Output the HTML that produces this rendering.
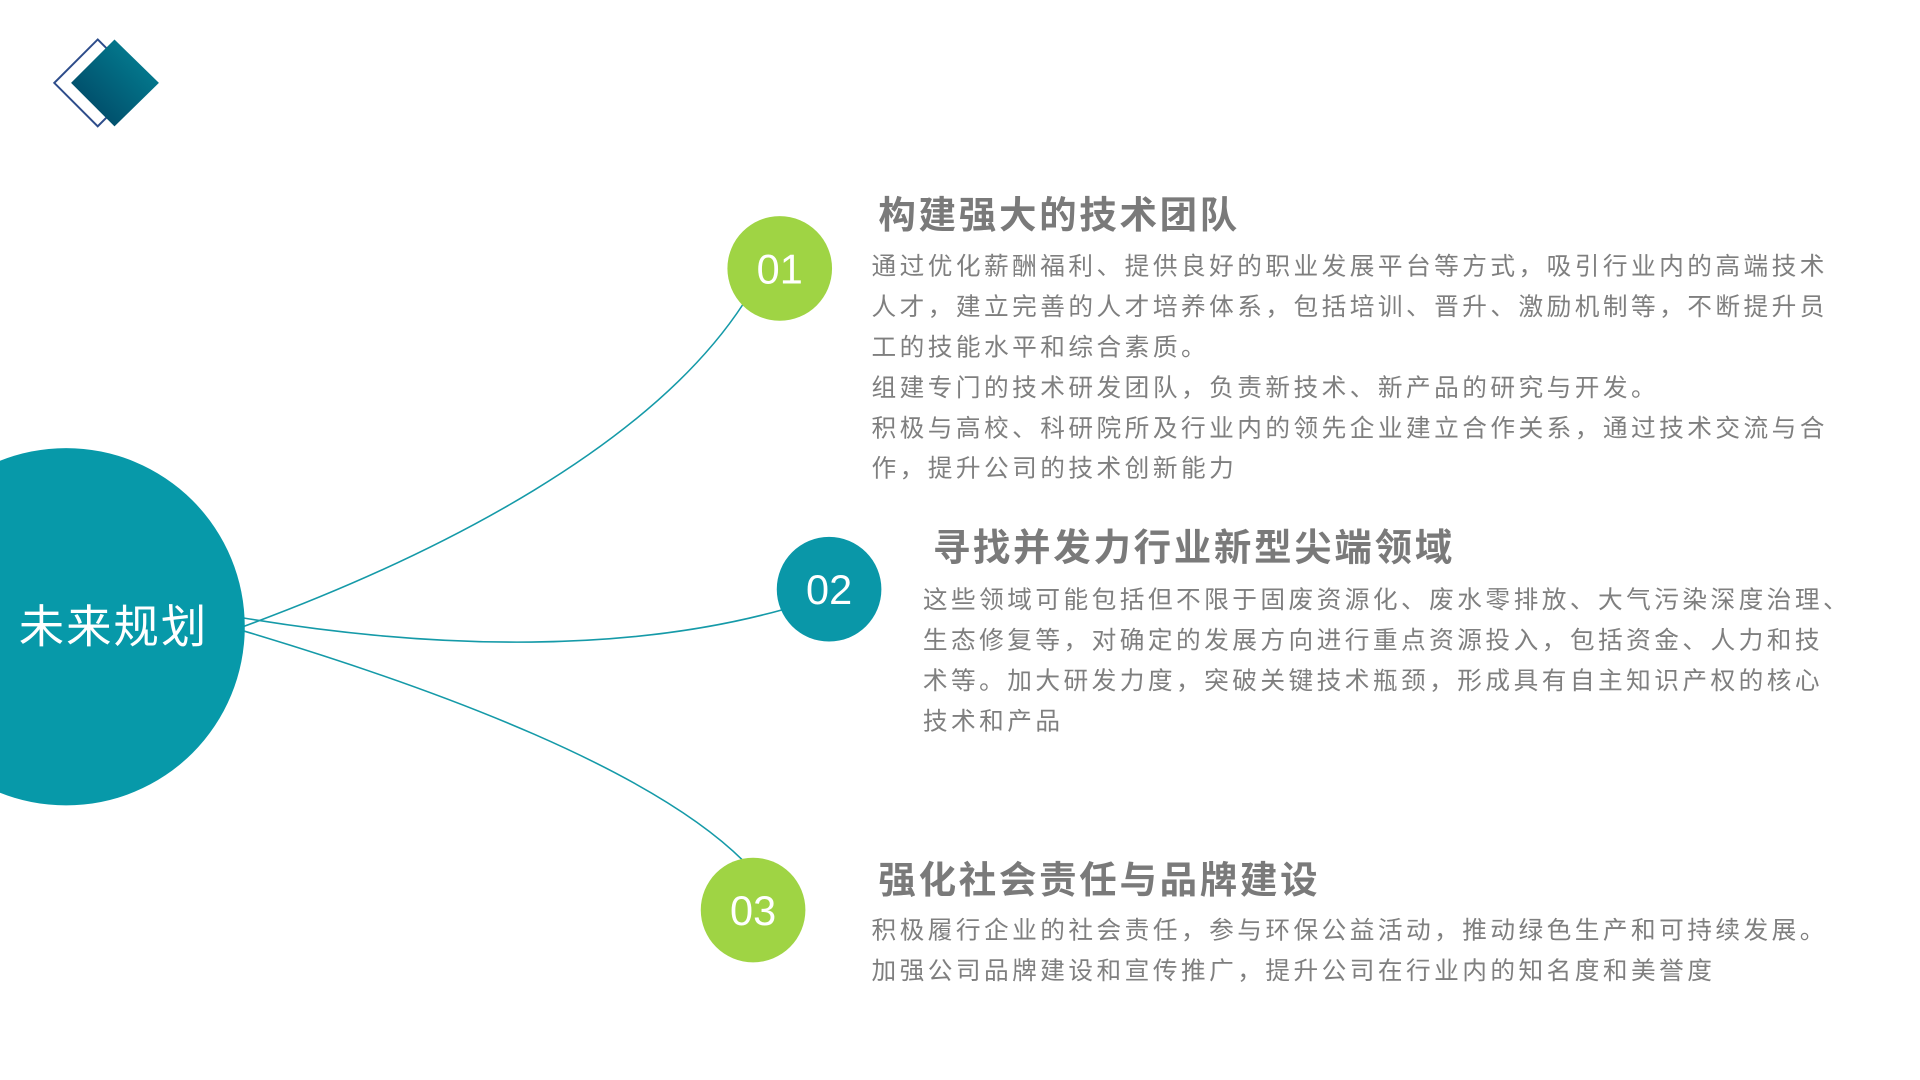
<!DOCTYPE html>
<html><head><meta charset="utf-8"><style>
html,body{margin:0;padding:0;background:#fff;}
body{width:1920px;height:1080px;position:relative;overflow:hidden;font-family:"Liberation Sans","Noto Sans CJK SC",sans-serif;}
#w{position:absolute;left:0;top:0;width:1920px;height:1080px;transform:scale(0.987);transform-origin:0 0;}
.t{position:absolute;white-space:nowrap;color:#7a7a7a;font-weight:bold;font-size:38px;letter-spacing:2.7px;line-height:46px;}
.b{position:absolute;white-space:nowrap;color:#7f7f7f;font-size:25px;letter-spacing:3.5px;line-height:41px;}
</style></head><body><div id="w">
<svg width="1920" height="1080" style="position:absolute;left:0;top:0">
<defs><linearGradient id="g" x1="1" y1="0" x2="0" y2="1"><stop offset="0" stop-color="#04889a"/><stop offset="1" stop-color="#003f5e"/></linearGradient></defs>
<polygon points="99,40 143,84 99,128 55,84" fill="none" stroke="#2d4c8a" stroke-width="2"/>
<polygon points="116,40 161,84 116,128 72,84" fill="url(#g)"/>
<g fill="none" stroke="#159aa8" stroke-width="1.6">
<path d="M246,635 C450,560 660,450 753,308"/>
<path d="M246,626 C450,660 640,660 792,618"/>
<path d="M246,639 C450,700 660,780 753,872"/>
</g>
<circle cx="67" cy="635" r="181" fill="#0799a9"/>
<circle cx="790" cy="272" r="53" fill="#9fd444"/>
<circle cx="840" cy="597" r="53" fill="#0a97a8"/>
<circle cx="763" cy="922" r="53" fill="#9fd444"/>
<g fill="#fff" font-family="Liberation Sans, sans-serif" font-size="42" text-anchor="middle">
<text x="790" y="287">01</text><text x="840" y="612">02</text><text x="763" y="937">03</text>
</g>
<text x="19" y="651" fill="#fff" font-size="46" letter-spacing="2" font-family="Liberation Sans, Noto Sans CJK SC, sans-serif">未来规划</text>
</svg>
<div class="t" style="left:890px;top:196px">构建强大的技术团队</div>
<div class="b" style="left:883px;top:250px">通过优化薪酬福利、提供良好的职业发展平台等方式，吸引行业内的高端技术<br>人才，建立完善的人才培养体系，包括培训、晋升、激励机制等，不断提升员<br>工的技能水平和综合素质。<br>组建专门的技术研发团队，负责新技术、新产品的研究与开发。<br>积极与高校、科研院所及行业内的领先企业建立合作关系，通过技术交流与合<br>作，提升公司的技术创新能力</div>
<div class="t" style="left:945px;top:533px">寻找并发力行业新型尖端领域</div>
<div class="b" style="left:935px;top:588px">这些领域可能包括但不限于固废资源化、废水零排放、大气污染深度治理、<br>生态修复等，对确定的发展方向进行重点资源投入，包括资金、人力和技<br>术等。加大研发力度，突破关键技术瓶颈，形成具有自主知识产权的核心<br>技术和产品</div>
<div class="t" style="left:890px;top:870px">强化社会责任与品牌建设</div>
<div class="b" style="left:883px;top:923px">积极履行企业的社会责任，参与环保公益活动，推动绿色生产和可持续发展。<br>加强公司品牌建设和宣传推广，提升公司在行业内的知名度和美誉度</div>
</div></body></html>
